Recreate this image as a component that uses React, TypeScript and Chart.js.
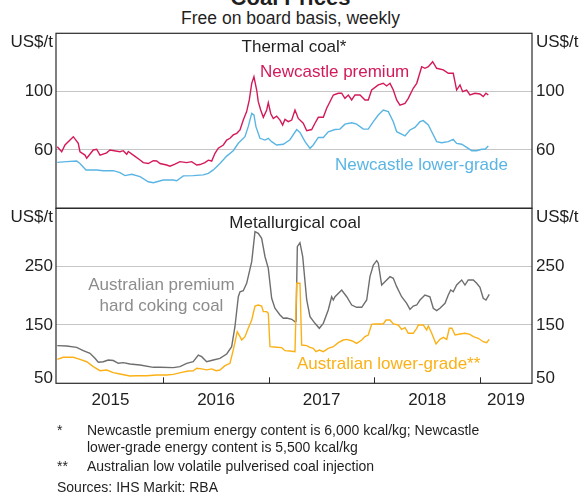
import React, { useEffect, useRef } from 'react';
import { Chart, registerables } from 'chart.js';

Chart.register(...registerables);

const FONT = '"Liberation Sans", Arial, Helvetica, sans-serif';

// ---- axis / tick data ----
const X_MIN = 2014.984;
const X_MAX = 2019.493;
const yearTickValues = [2016, 2017, 2018, 2019];
const yearLabelPositions = [2015.5, 2016.5, 2017.5, 2018.5, 2019.246];
const thermalRange = [20, 140];
const thermalTicks = [60, 100];
const metRange = [50, 350];
const metTicks = [150, 250];

// ---- series (decimal year, US$/t) ----
const newcastlePremium: [number, number][] = [
  [2014.996, 62.2], [2015.038, 58.8], [2015.069, 63.4], [2015.148, 69.1], [2015.195, 64.6], [2015.211, 58.8],
  [2015.259, 56.5], [2015.275, 54.3], [2015.337, 60], [2015.369, 60.5], [2015.401, 56.5], [2015.464, 58],
  [2015.495, 60], [2015.59, 58.8], [2015.621, 59.5], [2015.654, 57], [2015.669, 59], [2015.716, 56.5],
  [2015.78, 53.1], [2015.811, 51.3], [2015.858, 50.7], [2015.906, 52.6], [2015.938, 52.4], [2015.969, 50.7],
  [2016.032, 49.7], [2016.064, 48.9], [2016.111, 50.3], [2016.158, 52], [2016.222, 51.3], [2016.269, 52],
  [2016.317, 49.7], [2016.348, 50], [2016.395, 51.3], [2016.427, 53], [2016.459, 52.4], [2016.49, 57.7],
  [2016.521, 61.2], [2016.569, 63.4], [2016.601, 66.8], [2016.632, 68], [2016.663, 70.3], [2016.696, 71.4],
  [2016.727, 73.7], [2016.758, 80.5], [2016.79, 86.3], [2016.815, 94.3], [2016.838, 105.7], [2016.859, 110.2],
  [2016.885, 101.1], [2016.9, 93.1], [2016.923, 87.4], [2016.948, 82.4], [2016.98, 87.4], [2016.995, 92.4],
  [2017.018, 85], [2017.042, 81.6], [2017.074, 83.2], [2017.106, 80.5], [2017.131, 77.1], [2017.153, 81],
  [2017.184, 79.4], [2017.217, 80.5], [2017.248, 87.4], [2017.279, 81.6], [2017.326, 78.3], [2017.359, 73.2],
  [2017.406, 74], [2017.437, 78.3], [2017.469, 82.4], [2017.516, 82.4], [2017.548, 88.6], [2017.579, 93.1],
  [2017.611, 97.7], [2017.658, 98.9], [2017.69, 98.9], [2017.721, 95.4], [2017.753, 97.7], [2017.785, 94.3],
  [2017.816, 97.7], [2017.864, 97.7], [2017.911, 94.3], [2017.942, 94.3], [2017.974, 101.1], [2018.037, 104.6],
  [2018.084, 105.7], [2018.116, 103.9], [2018.148, 105.7], [2018.179, 101.1], [2018.211, 94.3], [2018.242, 90.8],
  [2018.29, 92], [2018.321, 95.4], [2018.368, 102.3], [2018.401, 105.7], [2018.448, 117.1], [2018.479, 116],
  [2018.511, 117.1], [2018.552, 120.5], [2018.59, 116], [2018.653, 114.9], [2018.7, 112.6], [2018.747, 112.6],
  [2018.779, 101.1], [2018.811, 104.6], [2018.836, 100], [2018.874, 101.1], [2018.905, 97.7], [2018.953, 98.9],
  [2019.0, 98.4], [2019.031, 96.6], [2019.057, 98.9], [2019.079, 97.7],
];

const newcastleLower: [number, number][] = [
  [2014.996, 51.5], [2015.085, 52], [2015.18, 52.4], [2015.211, 50.7], [2015.268, 46.3], [2015.369, 46.3],
  [2015.432, 45.8], [2015.527, 45.8], [2015.59, 44.5], [2015.637, 42.4], [2015.701, 43.3], [2015.78, 41.7],
  [2015.858, 38.2], [2015.906, 37.5], [2016.0, 39.4], [2016.095, 39.4], [2016.127, 38.9], [2016.19, 42.2],
  [2016.284, 42.4], [2016.379, 42.9], [2016.427, 44], [2016.474, 46.3], [2016.537, 50.7], [2016.601, 55.8],
  [2016.663, 59.5], [2016.711, 64.6], [2016.774, 69.1], [2016.805, 76], [2016.838, 85.1], [2016.859, 84],
  [2016.878, 76], [2016.916, 68], [2016.964, 66.8], [2016.995, 68], [2017.027, 65.7], [2017.074, 63.4],
  [2017.137, 63.9], [2017.2, 67], [2017.264, 74], [2017.295, 72], [2017.343, 65.7], [2017.39, 61.1],
  [2017.421, 63.4], [2017.469, 68.6], [2017.516, 68.6], [2017.563, 72.5], [2017.627, 74], [2017.674, 74.3],
  [2017.721, 77.7], [2017.785, 78.6], [2017.832, 77.7], [2017.895, 74.3], [2017.942, 74.3], [2017.99, 79.4],
  [2018.037, 84], [2018.084, 87.4], [2018.132, 86.3], [2018.179, 79.4], [2018.211, 72.5], [2018.29, 69.6],
  [2018.337, 73.7], [2018.384, 75.5], [2018.432, 79.4], [2018.463, 80.1], [2018.511, 77.1], [2018.543, 72.5],
  [2018.59, 65.7], [2018.637, 65], [2018.7, 65.7], [2018.747, 67.2], [2018.779, 64.5], [2018.827, 63.9],
  [2018.874, 61.8], [2018.922, 59.5], [2018.969, 59.5], [2019.016, 60.5], [2019.048, 60.5], [2019.079, 62.7],
];

const premiumHardCoking: [number, number][] = [
  [2014.996, 114.5], [2015.085, 114], [2015.18, 111.7], [2015.242, 105.9], [2015.306, 101.4], [2015.353, 92.8],
  [2015.385, 86], [2015.432, 87], [2015.479, 90], [2015.527, 89], [2015.574, 84.3], [2015.621, 85.4],
  [2015.685, 83.1], [2015.78, 81.4], [2015.906, 77.4], [2015.969, 77.4], [2016.095, 76.8], [2016.158, 78.6],
  [2016.222, 84.3], [2016.284, 87], [2016.332, 98.5], [2016.364, 95.7], [2016.411, 87], [2016.474, 90],
  [2016.537, 92.8], [2016.601, 100.2], [2016.648, 112.7], [2016.679, 147], [2016.711, 198.4], [2016.727, 207],
  [2016.758, 208.6], [2016.79, 221.4], [2016.838, 258.5], [2016.869, 309.9], [2016.9, 307], [2016.932, 298.6],
  [2016.964, 267], [2016.995, 247.1], [2017.027, 195.7], [2017.058, 178.6], [2017.106, 167.1], [2017.137, 161.4],
  [2017.169, 162], [2017.217, 159.7], [2017.248, 155.6], [2017.258, 156], [2017.27, 284.2], [2017.295, 291],
  [2017.321, 267], [2017.359, 192.8], [2017.39, 164.2], [2017.437, 152.8], [2017.478, 144.3], [2017.516, 152.8],
  [2017.563, 175.6], [2017.595, 198.4], [2017.611, 192.8], [2017.627, 198.4], [2017.674, 207], [2017.69, 209.9],
  [2017.738, 198.4], [2017.785, 184.2], [2017.832, 180.3], [2017.88, 180.3], [2017.927, 192.8], [2017.958, 232.8],
  [2017.99, 252.8], [2018.022, 260.2], [2018.037, 256], [2018.069, 218.5], [2018.1, 224], [2018.148, 232.8],
  [2018.179, 230], [2018.211, 215.7], [2018.258, 198.4], [2018.306, 187], [2018.337, 176.7], [2018.368, 182.5],
  [2018.401, 184.2], [2018.432, 192.8], [2018.479, 201.3], [2018.526, 198.4], [2018.558, 178.6], [2018.59, 174.6],
  [2018.621, 178.6], [2018.669, 187.1], [2018.7, 201.3], [2018.723, 209.9], [2018.747, 207], [2018.779, 218.5],
  [2018.827, 227.1], [2018.858, 218.5], [2018.889, 227.1], [2018.937, 227.1], [2018.969, 221.4], [2019.0, 214.5],
  [2019.031, 195.7], [2019.057, 192.8], [2019.088, 202.6],
];

const lowerGradePci: [number, number][] = [
  [2014.996, 91.1], [2015.053, 94.6], [2015.148, 94.6], [2015.211, 91.1], [2015.275, 87], [2015.337, 78.6],
  [2015.401, 71.6], [2015.464, 72.7], [2015.527, 68.2], [2015.59, 65.9], [2015.685, 62.5], [2015.748, 63],
  [2015.843, 63], [2015.938, 64.2], [2016.032, 64.2], [2016.095, 65.3], [2016.175, 68.8], [2016.237, 71],
  [2016.284, 71.6], [2016.317, 75.8], [2016.364, 74.7], [2016.411, 73], [2016.459, 74.7], [2016.5, 71.6],
  [2016.537, 72.7], [2016.585, 80.2], [2016.632, 84.3], [2016.663, 107], [2016.701, 138.5], [2016.727, 129.9],
  [2016.743, 124.2], [2016.774, 129.9], [2016.805, 144.3], [2016.838, 158.5], [2016.869, 182.5], [2016.9, 184.2],
  [2016.932, 182.5], [2016.948, 172.8], [2016.98, 172.8], [2016.995, 170], [2017.011, 112.7], [2017.074, 111.7],
  [2017.122, 111.1], [2017.153, 105.9], [2017.2, 105.3], [2017.248, 104.2], [2017.264, 221.4], [2017.295, 221.4],
  [2017.311, 115.6], [2017.359, 114.5], [2017.39, 111.7], [2017.421, 110], [2017.447, 104.2], [2017.478, 107],
  [2017.516, 104.2], [2017.563, 110], [2017.611, 112.7], [2017.658, 119.6], [2017.705, 124.2], [2017.738, 125.3],
  [2017.785, 123], [2017.832, 118.5], [2017.88, 124.2], [2017.911, 130], [2017.942, 132.7], [2017.974, 151.1],
  [2018.006, 151.7], [2018.084, 151.7], [2018.11, 158.5], [2018.148, 158.5], [2018.179, 151.7], [2018.226, 150],
  [2018.258, 142.5], [2018.29, 145.4], [2018.321, 135.7], [2018.368, 135.7], [2018.401, 144.3], [2018.416, 150],
  [2018.463, 150], [2018.495, 141.4], [2018.511, 148.3], [2018.543, 135.7], [2018.584, 117.4], [2018.621, 125.3],
  [2018.653, 128.7], [2018.685, 125.3], [2018.71, 144.3], [2018.734, 144.3], [2018.764, 132.8], [2018.811, 134.5],
  [2018.858, 135.7], [2018.905, 134], [2018.937, 130], [2018.984, 127.2], [2019.031, 121.3], [2019.063, 119.6],
  [2019.088, 125.3],
];

// ---- styles ----
const RED = '#d4195b';
const BLUE = '#5ab5e4';
const GREY_LINE = '#6e6e6e';
const GREY_TEXT = '#8c8c8c';
const ORANGE = '#fbb116';
const TEXT = '#1f1f1f';
const GRID = '#c6c6c6';
const FRAME = '#2a2a2a';

const frameplugin = {
  id: 'frame',
  afterDraw(chart: any, _args: any, opts: any) {
    const { ctx, chartArea: a } = chart;
    ctx.save();
    ctx.strokeStyle = FRAME;
    ctx.lineWidth = 1.2;
    ctx.strokeRect(a.left, a.top, a.right - a.left, a.bottom - a.top);
    if (opts.yearTicks) {
      const xs = chart.scales.x;
      for (const yr of yearTickValues) {
        const px = Math.round(xs.getPixelForValue(yr)) + 0.5;
        ctx.beginPath();
        ctx.moveTo(px, a.bottom);
        ctx.lineTo(px, a.bottom - 6);
        ctx.lineWidth = 1;
        ctx.stroke();
      }
    }
    ctx.fillStyle = TEXT;
    ctx.font = `17px ${FONT}`;
    ctx.textBaseline = 'alphabetic';
    ctx.textAlign = 'right';
    ctx.fillText('US$/t', a.left - 3, a.top + 14);
    ctx.textAlign = 'left';
    ctx.fillText('US$/t', a.right + 4, a.top + 14);
    if (opts.bottomValue !== undefined) {
      const ys = chart.scales.y;
      const py = ys.getPixelForValue(opts.bottomValue);
      ctx.textAlign = 'right';
      ctx.fillText(String(opts.bottomValue), a.left - 3, py);
      ctx.textAlign = 'left';
      ctx.fillText(String(opts.bottomValue), a.right + 4, py);
    }
    ctx.restore();
  },
};

function series(pts: [number, number][], color: string) {
  return {
    data: pts.map(([x, y]) => ({ x, y })),
    borderColor: color,
    borderWidth: 1.4,
    pointRadius: 0,
    tension: 0,
    fill: false,
  };
}

function yAxes(range: number[], ticks: number[]) {
  const tickFont = { family: FONT, size: 17 };
  const common = {
    type: 'linear',
    min: range[0],
    max: range[1],
    afterBuildTicks: (ax: any) => {
      ax.ticks = ticks.map((v) => ({ value: v }));
    },
    border: { display: false },
  };
  return {
    y: {
      ...common,
      position: 'left',
      afterFit: (s: any) => {
        s.width = 56;
      },
      grid: { color: GRID, lineWidth: 1, drawTicks: false },
      ticks: { padding: 3, color: TEXT, font: tickFont },
    },
    y2: {
      ...common,
      position: 'right',
      afterFit: (s: any) => {
        s.width = 49;
      },
      grid: { drawOnChartArea: false, drawTicks: false },
      ticks: { padding: 4, color: TEXT, font: tickFont },
    },
  };
}

function Label(props: { text: string; x: number; y: number; color?: string; size?: number; center?: boolean; bold?: boolean }) {
  const size = props.size ?? 17;
  return (
    <div
      style={{
        position: 'absolute',
        left: props.x,
        top: props.y - 0.49 * size,
        fontSize: size,
        lineHeight: `${size}px`,
        color: props.color ?? TEXT,
        whiteSpace: 'nowrap',
        fontWeight: props.bold ? 'bold' : 'normal',
        transform: props.center ? 'translateX(-50%)' : undefined,
      }}
    >
      {props.text}
    </div>
  );
}

export default function App() {
  const topRef = useRef<HTMLCanvasElement>(null);
  const botRef = useRef<HTMLCanvasElement>(null);

  useEffect(() => {
    const top = new Chart(topRef.current as HTMLCanvasElement, {
      type: 'line',
      data: { datasets: [series(newcastleLower, BLUE), series(newcastlePremium, RED)] as any },
      options: {
        animation: false,
        responsive: false,
        maintainAspectRatio: false,
        events: [],
        layout: { padding: { top: 15.3, bottom: 21.7, left: 0, right: 0 } },
        plugins: { legend: { display: false }, tooltip: { enabled: false }, frame: { yearTicks: false } } as any,
        scales: {
          x: { type: 'linear', min: X_MIN, max: X_MAX, display: false },
          ...(yAxes(thermalRange, thermalTicks) as any),
        },
      },
      plugins: [frameplugin],
    });

    const bottom = new Chart(botRef.current as HTMLCanvasElement, {
      type: 'line',
      data: { datasets: [series(lowerGradePci, ORANGE), series(premiumHardCoking, GREY_LINE)] as any },
      options: {
        animation: false,
        responsive: false,
        maintainAspectRatio: false,
        events: [],
        layout: { padding: { top: 18.3, bottom: 8.7, left: 0, right: 0 } },
        plugins: { legend: { display: false }, tooltip: { enabled: false }, frame: { yearTicks: true, bottomValue: 50 } } as any,
        scales: {
          x: {
            type: 'linear',
            position: 'bottom',
            min: X_MIN,
            max: X_MAX,
            afterBuildTicks: (ax: any) => {
              ax.ticks = yearLabelPositions.map((v) => ({ value: v }));
            },
            afterFit: (s: any) => {
              s.height = 30;
            },
            grid: { display: false, drawTicks: false },
            border: { display: false },
            ticks: {
              padding: 7,
              autoSkip: false,
              maxRotation: 0,
              color: TEXT,
              font: { family: FONT, size: 17 },
              callback: (v: any) => String(Math.floor(Number(v))),
            },
          },
          ...(yAxes(metRange, metTicks) as any),
        },
      },
      plugins: [frameplugin],
    });

    return () => {
      top.destroy();
      bottom.destroy();
    };
  }, []);

  return (
    <div
      style={{
        position: 'fixed',
        left: 0,
        top: 0,
        width: 581,
        height: 492,
        background: '#ffffff',
        overflow: 'hidden',
        fontFamily: FONT,
        color: TEXT,
      }}
    >
      <div
        style={{
          position: 'absolute',
          left: 0,
          width: 581,
          top: -12.6,
          textAlign: 'center',
          fontWeight: 'bold',
          fontSize: 22,
          lineHeight: '22px',
        }}
      >
        Coal Prices
      </div>
      <div
        style={{
          position: 'absolute',
          left: 0,
          width: 581,
          top: 19 - 0.49 * 17.5,
          textAlign: 'center',
          fontSize: 17.5,
          lineHeight: '17.5px',
        }}
      >
        Free on board basis, weekly
      </div>

      <canvas ref={topRef} width={581} height={212} style={{ position: 'absolute', left: 0, top: 18, width: 581, height: 212 }} />
      <canvas ref={botRef} width={581} height={232} style={{ position: 'absolute', left: 0, top: 190, width: 581, height: 232 }} />

      <Label text="Thermal coal*" x={294} y={46} center />
      <Label text="Newcastle premium" x={260} y={71} color={RED} />
      <Label text="Newcastle lower-grade" x={335} y={164} color={BLUE} />

      <Label text="Metallurgical coal" x={295} y={222} center />
      <Label text="Australian premium" x={161.5} y={284} color={GREY_TEXT} center />
      <Label text="hard coking coal" x={161.5} y={305} color={GREY_TEXT} center />
      <Label text="Australian lower-grade**" x={297} y={363} color={ORANGE} />

      <Label text="*" x={57} y={430} size={14} />
      <Label text="Newcastle premium energy content is 6,000 kcal/kg; Newcastle" x={87} y={430} size={14} />
      <Label text="lower-grade energy content is 5,500 kcal/kg" x={87} y={447} size={14} />
      <Label text="**" x={57} y={466} size={14} />
      <Label text="Australian low volatile pulverised coal injection" x={87} y={466} size={14} />
      <Label text="Sources: IHS Markit: RBA" x={57} y={487} size={14} />
    </div>
  );
}
